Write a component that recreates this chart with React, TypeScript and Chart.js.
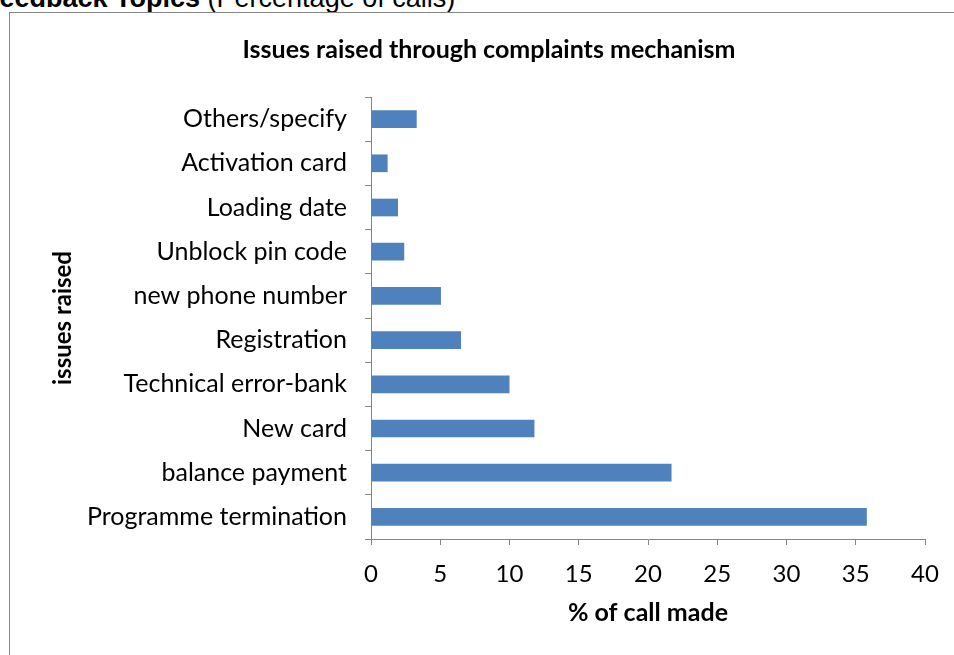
import React, { useEffect, useRef } from "react";
import { Chart, registerables } from "chart.js";

Chart.register(...registerables);

const categories = [
  "Programme termination",
  "balance payment",
  "New card",
  "Technical error-bank",
  "Registration",
  "new phone number",
  "Unblock pin code",
  "Loading date",
  "Activation card",
  "Others/specify",
];
const values = [35.8, 21.7, 11.8, 10.0, 6.5, 5.05, 2.4, 1.95, 1.2, 3.3];
const xTicks = [0, 5, 10, 15, 20, 25, 30, 35, 40];
const chartTitle = "Issues raised through complaints mechanism";
const xTitle = "% of call made";
const yTitle = "issues raised";

export default function App() {
  const ref = useRef<HTMLCanvasElement | null>(null);
  useEffect(() => {
    if (!ref.current) return;
    const font = "Lato, 'Open Sans', sans-serif";
    const chart = new Chart(ref.current, {
      type: "bar",
      data: {
        labels: categories,
        datasets: [
          {
            data: values,
            backgroundColor: "#4F81BD",
            borderWidth: 0,
            categoryPercentage: 0.4,
            barPercentage: 1,
          },
        ],
      },
      options: {
        indexAxis: "y",
        animation: false,
        responsive: false,
        maintainAspectRatio: false,
        layout: { padding: { left: 53, right: 29, top: 0, bottom: 0 } },
        plugins: {
          legend: { display: false },
          tooltip: { enabled: false },
          title: {
            display: true,
            text: chartTitle,
            color: "#000",
            font: { family: font, size: 25, weight: "bold" },
            padding: { top: 35, bottom: 32 },
          },
        },
        scales: {
          y: {
            reverse: true,
            afterFit: (s: any) => {
              s.width = 318;
            },
            grid: {
              offset: true,
              drawOnChartArea: false,
              drawTicks: true,
              tickLength: 6,
              color: "#868686",
            },
            border: { color: "#868686", width: 1 },
            ticks: {
              color: "#000",
              font: { family: font, size: 25 },
              padding: 18,
            },
            title: {
              display: true,
              text: yTitle,
              color: "#000",
              font: { family: font, size: 24, weight: "bold" },
              padding: { top: -4, bottom: 0 },
            },
          },
          x: {
            min: 0,
            max: 40,
            afterFit: (s: any) => {
              s.height = 116;
            },
            afterBuildTicks: (s: any) => {
              s.ticks = xTicks.map((v) => ({ value: v }));
            },
            grid: {
              drawOnChartArea: false,
              drawTicks: true,
              tickLength: 6,
              color: "#868686",
            },
            border: { color: "#868686", width: 1 },
            ticks: {
              color: "#000",
              font: { family: font, size: 24 },
              padding: 15,
              maxRotation: 0,
            },
            title: {
              display: true,
              text: xTitle,
              color: "#000",
              font: { family: font, size: 25, weight: "bold" },
              padding: { top: 0, bottom: 27 },
            },
          },
        },
      },
    });
    return () => chart.destroy();
  }, []);

  return (
    <div
      style={{
        position: "absolute",
        left: 0,
        top: 0,
        width: 954,
        height: 655,
        overflow: "hidden",
        background: "#fff",
      }}
    >
      <div
        style={{
          position: "absolute",
          left: -17,
          top: -17,
          whiteSpace: "nowrap",
          fontFamily: "'Liberation Sans', Arial, sans-serif",
          fontSize: 27,
          color: "#000",
        }}
      >
        <b>Feedback Topics</b> (Percentage of calls)
      </div>
      <div
        style={{
          position: "absolute",
          left: 9,
          top: 12,
          width: 1000,
          height: 700,
          border: "1.5px solid #868686",
          boxSizing: "border-box",
        }}
      />
      <canvas
        ref={ref}
        width={954}
        height={655}
        style={{ position: "absolute", left: 0, top: 0, width: 954, height: 655 }}
      />
    </div>
  );
}
